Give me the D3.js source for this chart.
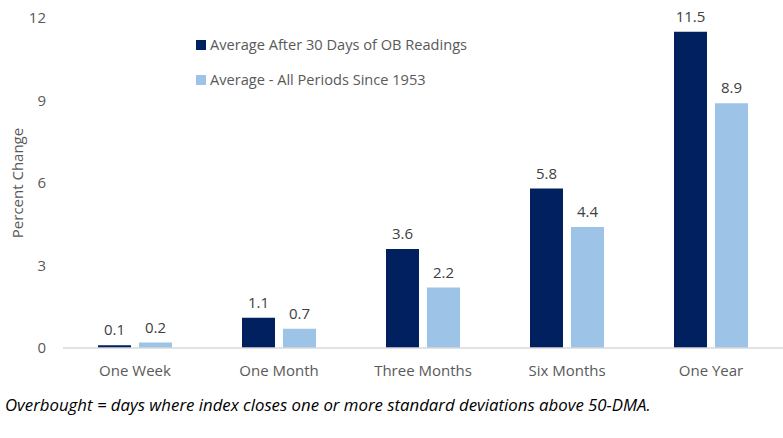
<!DOCTYPE html>
<html>
<head>
<meta charset="utf-8">
<script src="https://cdn.jsdelivr.net/npm/d3@7"></script>
<style>
  body { margin: 0; background: #fff; }
  text { font-family: "Open Sans", sans-serif; }
</style>
</head>
<body>
<div id="chart"></div>
<script>
// chart data
const periods = ["One Week", "One Month", "Three Months", "Six Months", "One Year"];
const seriesNames = ["Average After 30 Days of OB Readings", "Average - All Periods Since 1953"];
const obValues = [0.1, 1.1, 3.6, 5.8, 11.5];
const allValues = [0.2, 0.7, 2.2, 4.4, 8.9];
const yTicks = [0, 3, 6, 9, 12];
const colors = ["#002060", "#9DC3E6"];

const width = 783;
const height = 438;

const svg = d3.select("#chart")
    .append("svg")
    .attr("width", width)
    .attr("height", height);

const x = d3.scaleBand().domain(periods).range([63, 783]);
const y = d3.scaleLinear().domain([0, 12]).range([348, 18]);
const barW = 33, gap = 8;

// y tick labels
svg.selectAll(".ytick")
    .data(yTicks)
    .enter()
    .append("text")
    .attr("x", 46)
    .attr("y", d => y(d))
    .attr("dy", "0.35em")
    .attr("text-anchor", "end")
    .attr("font-size", 15)
    .attr("fill", "#595959")
    .text(d => d);

// axis title
svg.append("text")
    .attr("transform", "translate(23," + y(6) + ") rotate(-90)")
    .attr("text-anchor", "middle")
    .attr("font-size", 15)
    .attr("fill", "#595959")
    .text("Percent Change");

const series = [obValues, allValues];

series.forEach((vals, si) => {
    const off = si === 0 ? -gap / 2 - barW : gap / 2;
    const g = svg.append("g");
    g.selectAll("rect")
        .data(vals)
        .enter()
        .append("rect")
        .attr("x", (d, i) => x(periods[i]) + x.bandwidth() / 2 + off)
        .attr("y", d => y(d))
        .attr("width", barW)
        .attr("height", d => y(0) - y(d))
        .attr("fill", colors[si]);
    g.selectAll("text")
        .data(vals)
        .enter()
        .append("text")
        .attr("x", (d, i) => x(periods[i]) + x.bandwidth() / 2 + off + barW / 2)
        .attr("y", d => y(d) - 10)
        .attr("text-anchor", "middle")
        .attr("font-size", 15)
        .attr("fill", "#404040")
        .text(d => d.toFixed(1));
});

// baseline
svg.append("line")
    .attr("x1", 63).attr("x2", 783)
    .attr("y1", y(0)).attr("y2", y(0))
    .attr("stroke", "#D9D9D9")
    .attr("stroke-width", 1.5);

// category labels
svg.selectAll(".xlab")
    .data(periods)
    .enter()
    .append("text")
    .attr("x", d => x(d) + x.bandwidth() / 2)
    .attr("y", 376)
    .attr("text-anchor", "middle")
    .attr("font-size", 15)
    .attr("fill", "#595959")
    .text(d => d);

// legend
const legend = svg.append("g");
seriesNames.forEach((name, i) => {
    const ly = 45 + i * 35;
    legend.append("rect")
        .attr("x", 196).attr("y", ly - 5)
        .attr("width", 10).attr("height", 10)
        .attr("fill", colors[i]);
    legend.append("text")
        .attr("x", 210).attr("y", ly)
        .attr("dy", "0.35em")
        .attr("font-size", 14.6)
        .attr("fill", "#595959")
        .text(name);
});

// footnote
svg.append("text")
    .attr("x", 5).attr("y", 411)
    .attr("font-size", 16.8)
    .attr("font-style", "italic")
    .attr("fill", "#000")
    .text("Overbought = days where index closes one or more standard deviations above 50-DMA.");
</script>
</body>
</html>
